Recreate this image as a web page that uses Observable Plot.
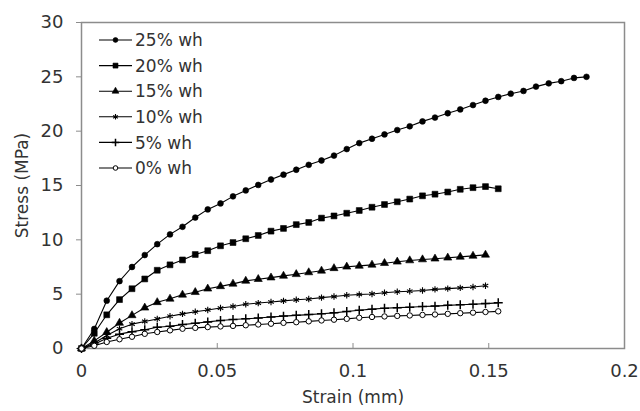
<!DOCTYPE html>
<html>
<head>
<meta charset="utf-8">
<script src="https://cdn.jsdelivr.net/npm/d3@7"></script>
<script src="https://cdn.jsdelivr.net/npm/@observablehq/plot@0.6"></script>
<style>
  html, body { margin: 0; padding: 0; background: #fff; }
  #wrap { position: relative; width: 640px; height: 411px; }
  #wrap svg { position: absolute; left: 0; top: 0; }
</style>
</head>
<body>
<div id="wrap"></div>
<script>
// ---- data ----
const strain = [0, .0047, .0093, .014, .0186, .0233, .0279, .0326, .0372, .0419, .0465, .0512, .0558, .0605, .0651, .0698, .0744, .0791, .0837, .0884, .093, .0977, .1023, .107, .1116, .1163, .1209, .1256, .1302, .1349, .1395, .1442, .1488, .1535, .1581, .1628, .1674, .1721, .1767, .1814, .186];
const wh25 = [0,1.8,4.4,6.2,7.5,8.6,9.6,10.5,11.2,12.05,12.8,13.35,14.0,14.55,15.05,15.55,16.0,16.45,16.9,17.3,17.75,18.35,18.9,19.3,19.7,20.1,20.45,20.9,21.25,21.65,22.0,22.4,22.8,23.15,23.45,23.7,24.1,24.4,24.6,24.9,25.0];
const wh20 = [0,1.4,3.1,4.5,5.5,6.4,7.2,7.7,8.15,8.65,9.0,9.45,9.75,10.1,10.4,10.8,11.05,11.4,11.6,12.0,12.2,12.45,12.7,13.0,13.25,13.5,13.75,14.05,14.2,14.4,14.65,14.8,14.9,14.7];
const wh15 = [0,0.7,1.5,2.35,3.05,3.75,4.25,4.57,4.94,5.18,5.5,5.72,5.95,6.22,6.38,6.52,6.68,6.83,7.0,7.15,7.38,7.52,7.6,7.7,7.85,7.98,8.1,8.19,8.26,8.35,8.43,8.52,8.62];
const wh10 = [0,0.5,1.2,1.82,2.24,2.49,2.72,2.97,3.19,3.38,3.55,3.72,3.87,4.07,4.18,4.28,4.38,4.48,4.55,4.68,4.78,4.9,4.97,5.02,5.13,5.22,5.27,5.34,5.44,5.51,5.58,5.66,5.78];
const wh5 = [0,0.4,0.95,1.32,1.55,1.73,1.95,2.05,2.2,2.33,2.45,2.58,2.67,2.74,2.8,2.9,2.98,3.05,3.12,3.2,3.28,3.4,3.52,3.62,3.7,3.76,3.8,3.86,3.9,3.97,4.02,4.07,4.13,4.2];
const wh0 = [0,0.25,0.6,0.85,1.08,1.35,1.52,1.67,1.82,1.9,1.97,2.03,2.08,2.14,2.21,2.28,2.36,2.42,2.5,2.58,2.65,2.73,2.83,2.9,2.95,3.0,3.04,3.09,3.13,3.19,3.25,3.3,3.36,3.42];

const seriesNames = ["25% wh", "20% wh", "15% wh", "10% wh", "5% wh", "0% wh"];
const seriesValues = [wh25, wh20, wh15, wh10, wh5, wh0];
const xTicks = [0, 0.05, 0.1, 0.15, 0.2];
const xTickLabels = ["0", "0.05", "0.1", "0.15", "0.2"];
const yTicks = [0, 5, 10, 15, 20, 25, 30];
const xLabel = "Strain (mm)";
const yLabel = "Stress (MPa)";

// marker styles per series
const symbolOf = {"25% wh":"circle","20% wh":"square","15% wh":"triangle","10% wh":"asterisk","5% wh":"plus","0% wh":"circle"};
const fillOf = {"25% wh":"black","20% wh":"black","15% wh":"black","10% wh":"none","5% wh":"none","0% wh":"white"};
const rOf = {"25% wh":2.9,"20% wh":3.3,"15% wh":3.0,"10% wh":3.0,"5% wh":3.0,"0% wh":2.7};
const swOf = {"25% wh":0.6,"20% wh":0.6,"15% wh":0.6,"10% wh":1.1,"5% wh":1.5,"0% wh":1};

const rows = [];
seriesNames.forEach((name, k) => {
  seriesValues[k].forEach((v, i) => rows.push({series: name, strain: strain[i], stress: v}));
});

const textColor = "#333";
const axisColor = "#8c8c8c";
const font = "'DejaVu Sans', sans-serif";

const chart = Plot.plot({
  width: 640,
  height: 411,
  marginLeft: 81,
  marginRight: 16,
  marginTop: 22,
  marginBottom: 63,
  style: {fontFamily: font, fontSize: "18px", color: textColor, background: "white"},
  x: {domain: [0, 0.2]},
  y: {domain: [0, 30]},
  marks: [
    Plot.axisY({ticks: yTicks, tickSize: 5, tickPadding: 13, stroke: axisColor, fill: textColor, fontSize: 18,
      label: null}),
    Plot.axisY({ticks: [], tickSize: 0, label: yLabel, labelAnchor: "center", labelArrow: "none", labelOffset: 66, fontSize: 17, fill: textColor}),
    Plot.axisX({ticks: xTicks, tickSize: 5, dy: -5, text: null, stroke: axisColor, label: null}),
    Plot.axisX({ticks: xTicks, tickSize: 0, tickPadding: 16, tickFormat: (d, i) => xTickLabels[i], fill: textColor, fontSize: 18,
      label: null}),
    Plot.axisX({ticks: [], tickSize: 0, label: xLabel, labelAnchor: "center", labelArrow: "none", labelOffset: 54, fontSize: 17, fill: textColor}),
    Plot.frame({stroke: axisColor, strokeWidth: 1.5}),
    Plot.line(rows, {x: "strain", y: "stress", z: "series", stroke: "black", strokeWidth: 1.1}),
    ...seriesNames.map(name => Plot.dot(rows.filter(d => d.series === name), {
      x: "strain", y: "stress", symbol: () => symbolOf[name], r: rOf[name],
      fill: fillOf[name], stroke: "black", strokeWidth: swOf[name]
    }))
  ]
});
document.getElementById("wrap").appendChild(chart);

// legend overlay (drawn with d3)
const leg = d3.select("#wrap").append("svg").attr("width", 640).attr("height", 411)
  .style("pointer-events", "none").style("font-family", font);
const symMap = {circle: d3.symbolCircle, square: d3.symbolSquare, triangle: d3.symbolTriangle, asterisk: d3.symbolAsterisk, plus: d3.symbolPlus};
seriesNames.forEach((name, i) => {
  const y = 40 + i * 25.6;
  const g = leg.append("g").attr("transform", `translate(0,${y})`);
  g.append("line").attr("x1", 99).attr("x2", 132).attr("y1", 0).attr("y2", 0).attr("stroke", "black").attr("stroke-width", 1.1);
  const r = rOf[name] * 0.85;
  g.append("path").attr("transform", "translate(115.5,0)")
    .attr("d", d3.symbol(symMap[symbolOf[name]], Math.PI * r * r)())
    .attr("fill", fillOf[name]).attr("stroke", "black").attr("stroke-width", swOf[name]);
  g.append("text").attr("x", 135).attr("y", 0).attr("dy", "0.36em").attr("font-size", 17).attr("fill", textColor).text(name);
});
</script>
</body>
</html>
